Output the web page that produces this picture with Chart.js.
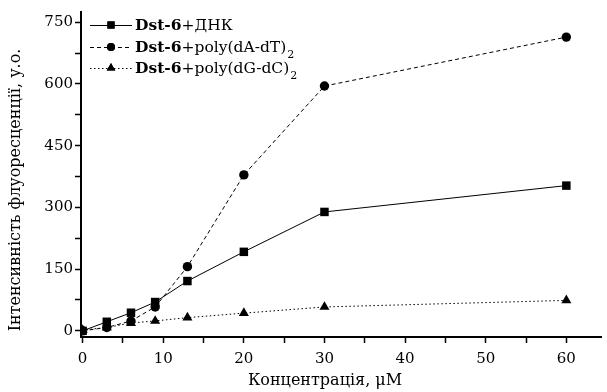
<!DOCTYPE html>
<html>
<head>
<meta charset="utf-8">
<script src="https://cdn.jsdelivr.net/npm/chart.js@4.4.1/dist/chart.umd.min.js"></script>
<style>
html,body{margin:0;padding:0;background:#fff;}
#wrap{position:relative;width:607px;height:392px;}
</style>
</head>
<body>
<div id="wrap"><canvas id="c" width="607" height="392"></canvas></div>
<script>
const concentrations = [0, 3, 6, 9, 13, 20, 30, 60];
const dnaValues = [0, 22, 44, 70, 121, 192, 289, 353];
const polyATValues = [0, 8, 24, 58, 156, 379, 595, 714];
const polyGCValues = [2, 8, 19, 24, 32, 43, 58, 74];
const xTickLabels = [0, 10, 20, 30, 40, 50, 60];
const yTickLabels = [0, 150, 300, 450, 600, 750];
const seriesPrefix = 'Dst-6';
const seriesSuffixes = ['+ДНК', '+poly(dA-dT)', '+poly(dG-dC)'];
const seriesSubscripts = ['', '2', '2'];
const xTitle = 'Концентрація, μM';
const yTitle = 'Інтенсивність флуоресценції, у.о.';

const FONT = '"DejaVu Serif", serif';

function pts(vals){ return concentrations.map((x,i)=>({x:x,y:vals[i]})); }

const styles = [
  {dash:[], point:'rect', radius:6},
  {dash:[4,3], point:'circle', radius:4.7},
  {dash:[1.5,2.5], point:'triangle', radius:5.8}
];

const datasets = [dnaValues, polyATValues, polyGCValues].map((v,i)=>({
  label: seriesPrefix + seriesSuffixes[i] + seriesSubscripts[i],
  data: pts(v),
  borderColor:'#000',
  backgroundColor:'#000',
  borderWidth:1,
  borderDash: styles[i].dash,
  pointStyle: styles[i].point,
  pointRadius: styles[i].radius,
  pointBorderWidth:0,
  pointBackgroundColor:'#000',
  tension:0,
  fill:false
}));

const textPlugin = {
  id:'texts',
  afterDraw(chart){
    const ctx = chart.ctx;
    ctx.save();
    ctx.fillStyle = '#000';
    // axis titles
    ctx.font = '16px ' + FONT;
    ctx.textAlign = 'center';
    ctx.textBaseline = 'middle';
    ctx.fillText(xTitle, 325, 381);
    ctx.save();
    ctx.translate(16, 190);
    ctx.rotate(-Math.PI/2);
    ctx.fillText(yTitle, 0, 0);
    ctx.restore();
    // legend
    const rows = [25, 47, 68];
    datasets.forEach((ds,i)=>{
      const y = rows[i];
      ctx.strokeStyle = '#000';
      ctx.lineWidth = 1;
      ctx.setLineDash(ds.borderDash);
      ctx.beginPath();
      ctx.moveTo(90, y + 0.5);
      ctx.lineTo(132, y + 0.5);
      ctx.stroke();
      ctx.setLineDash([]);
      Chart.helpers.drawPoint(ctx, {pointStyle: ds.pointStyle, radius: ds.pointRadius * 0.85, borderWidth:0, rotation:0}, 111, y);
      ctx.fill();
      ctx.textAlign = 'left';
      ctx.textBaseline = 'middle';
      let x = 135;
      ctx.font = 'bold 15.5px ' + FONT;
      ctx.fillText(seriesPrefix, x, y + 1);
      x += ctx.measureText(seriesPrefix).width;
      ctx.font = '15.5px ' + FONT;
      ctx.fillText(seriesSuffixes[i], x, y + 1);
      x += ctx.measureText(seriesSuffixes[i]).width;
      if (seriesSubscripts[i]) {
        ctx.font = '11px ' + FONT;
        ctx.fillText(seriesSubscripts[i], x + 1, y + 8);
      }
    });
    ctx.restore();
  }
};

new Chart(document.getElementById('c'), {
  type:'line',
  data:{datasets},
  plugins:[textPlugin],
  options:{
    responsive:false,
    animation:false,
    events:[],
    layout:{padding:{top:12,right:0,left:0,bottom:0}},
    plugins:{legend:{display:false}, tooltip:{enabled:false}},
    scales:{
      x:{
        type:'linear', min:-0.2, max:64.3,
        afterFit(s){ s.height = 55; },
        afterBuildTicks(s){
          const t=[]; for(let v=0; v<=60; v+=5) t.push({value:v});
          s.ticks = t;
        },
        border:{display:true,color:'#000',width:2},
        grid:{display:true,drawOnChartArea:false,drawTicks:true,tickLength:6,tickColor:'#000',tickWidth:1.5},
        ticks:{
          color:'#000', padding:7, maxRotation:0, autoSkip:false,
          font:{family:FONT,size:15},
          callback(v){ return xTickLabels.includes(v) ? String(v) : ''; }
        }
      },
      y:{
        type:'linear', min:-15, max:775,
        afterFit(s){ s.width = 81; },
        afterBuildTicks(s){
          const t=[]; for(let v=0; v<=750; v+=75) t.push({value:v});
          s.ticks = t;
        },
        border:{display:true,color:'#000',width:2},
        grid:{display:true,drawOnChartArea:false,drawTicks:true,tickLength:6,tickColor:'#000',tickWidth:1.5},
        ticks:{
          color:'#000', padding:2, autoSkip:false,
          font:{family:FONT,size:15},
          callback(v){ return yTickLabels.includes(v) ? String(v) : ''; }
        }
      }
    }
  }
});
</script>
</body>
</html>
